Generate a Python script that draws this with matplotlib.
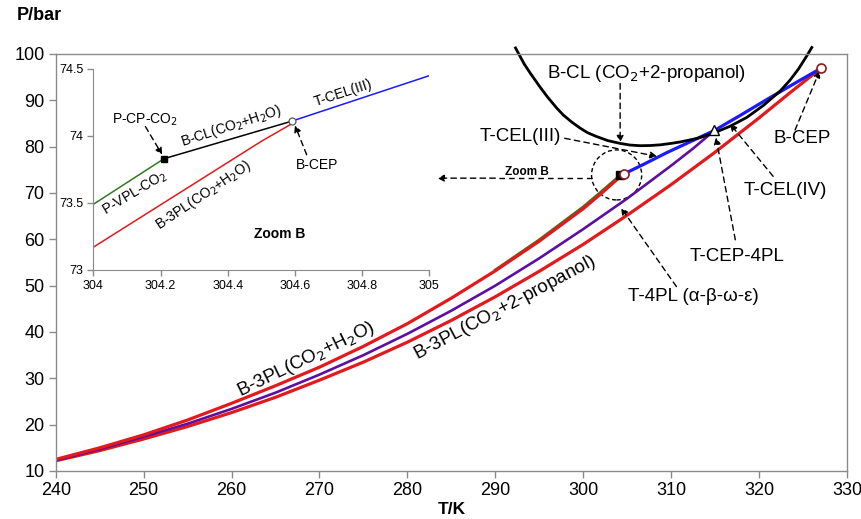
import matplotlib
matplotlib.use("Agg")
import matplotlib.pyplot as plt
from matplotlib.patches import Ellipse
from matplotlib.ticker import FormatStrFormatter

plt.rcParams["font.family"] = ["Liberation Sans", "DejaVu Sans"]

# three-phase line CO2 + H2O
b3pl_h2o_t = [240, 245, 250, 255, 260, 265, 270, 275, 280, 285, 290, 295,
              300, 302, 304.0, 304.5, 304.59]
b3pl_h2o_p = [12.5, 15.0, 17.8, 21.0, 24.6, 28.4, 32.4, 36.9, 41.8, 47.3, 53.2, 59.6,
              66.6, 69.8, 73.17, 73.96, 74.09]

# CO2 vapour pressure line near its critical point
vpl_co2_t = [290, 295, 300, 302, 304.0, 304.21]
vpl_co2_p = [53.4, 59.9, 67.0, 70.2, 73.49, 73.83]

# critical line CO2 + H2O
bcl_h2o_t = [304.21, 304.59]
bcl_h2o_p = [73.83, 74.11]

# four-phase line
t4pl_t = [240, 245, 250, 255, 260, 265, 270, 275, 280, 285, 290, 295,
          300, 305, 310, 312.5, 314.93]
t4pl_p = [12.3, 14.7, 17.4, 20.2, 23.4, 26.9, 30.8, 35.0, 39.6, 44.6, 50.0, 55.9,
          62.2, 68.8, 75.9, 79.6, 83.5]

# three-phase line CO2 + 2-propanol
b3pl_prop_t = [240, 245, 250, 255, 260, 265, 270, 275, 280, 285, 290, 295,
               300, 305, 310, 315, 320, 323.5, 327.03]
b3pl_prop_p = [12.2, 14.4, 16.9, 19.6, 22.6, 25.9, 29.6, 33.5, 37.8, 42.5, 47.6, 53.1,
               58.9, 65.2, 71.8, 78.8, 86.2, 91.6, 96.9]

# ternary critical endpoint line
tcel_t = [304.59, 305.0, 307.0, 309.5, 312.0, 314.93, 318.0, 321.0, 324.0, 327.03]
tcel_p = [74.11, 74.45, 76.3, 78.7, 80.9, 83.5, 86.9, 90.3, 93.6, 96.9]

# critical line CO2 + 2-propanol
bcl_prop_t = [292.3, 293.3, 294.0, 295.0, 295.9, 297.0, 297.75, 298.7, 299.65,
              300.5, 301.5, 302.8, 304.2, 305.3, 306.5, 307.7, 308.8, 310.0,
              311.0, 313.0, 314.8, 316.7, 318.6, 320.5, 322.4, 323.5, 324.5,
              325.5, 326.0]
bcl_prop_p = [101.3, 97.8, 95.8, 93.1, 90.8, 88.3, 86.8, 85.3, 84.0,
              83.0, 82.2, 81.3, 80.7, 80.35, 80.2, 80.25, 80.4, 80.7,
              81.0, 81.8, 82.9, 84.4, 86.3, 88.9, 92.0, 94.3, 96.8,
              99.8, 101.4]

# special points
cp_co2 = (304.21, 73.83)
cep_h2o = (304.59, 74.11)
tcep_4pl = (314.93, 83.5)
cep_prop = (327.03, 96.9)

RED = "#e3191c"
PURPLE = "#5c0fa0"
BLUE = "#1a1aff"
GREEN = "#2f7a1f"
GRAY = "#8a8a8a"

fig = plt.figure(figsize=(8.61, 5.19), dpi=100)
ax = fig.add_axes([0.0647, 0.0925, 0.9190, 0.8035])

ax.plot(vpl_co2_t, vpl_co2_p, color=GREEN, lw=2.0)
ax.plot(b3pl_prop_t, b3pl_prop_p, color=RED, lw=2.3)
ax.plot(t4pl_t, t4pl_p, color=PURPLE, lw=1.9)
ax.plot(b3pl_h2o_t, b3pl_h2o_p, color=RED, lw=2.3)
ax.plot(bcl_h2o_t, bcl_h2o_p, color="black", lw=1.5)
ax.plot(tcel_t, tcel_p, color=BLUE, lw=2.3)
ax.plot(bcl_prop_t, bcl_prop_p, color="black", lw=2.0, clip_on=False)

ax.plot(*cp_co2, marker="s", ms=6, color="black", zorder=5)
ax.plot(*cep_h2o, marker="o", ms=6.5, mfc="white", mec="#8b1a1a", mew=1.2, zorder=5)
ax.plot(*tcep_4pl, marker="^", ms=7, mfc="white", mec="black", mew=1.0, zorder=5)
ax.plot(*cep_prop, marker="o", ms=6.5, mfc="white", mec="#8b1a1a", mew=1.2, zorder=5)

ax.set_xlim(240, 330)
ax.set_ylim(10, 100)
ax.set_xticks(range(240, 331, 10))
ax.set_yticks(range(10, 101, 10))
ax.tick_params(direction="out", length=5, width=1, color=GRAY, labelsize=13, pad=3)
for s in ax.spines.values():
    s.set_color(GRAY)
    s.set_linewidth(1.0)
ax.set_xlabel("T/K", fontsize=12.5, fontweight="bold", labelpad=2)
fig.text(0.046, 0.971, "P/bar", fontsize=13, fontweight="bold", ha="center", va="center")

dash = dict(arrowstyle="-|>", linestyle=(0, (4, 3)), color="black", lw=1.0,
            mutation_scale=10, shrinkA=0, shrinkB=0)
lab = dict(fontsize=13.5, ha="center", va="center")

ax.text(307.2, 95.8, "B-CL (CO$_2$+2-propanol)", **lab)
ax.annotate("", xy=(304.2, 80.9), xytext=(304.2, 93.6), arrowprops=dash)

ax.text(292.8, 82.2, "T-CEL(III)", **lab)
ax.annotate("", xy=(308.4, 77.9), xytext=(297.9, 81.8), arrowprops=dash)

ax.text(323.0, 70.6, "T-CEL(IV)", **lab)
ax.annotate("", xy=(316.7, 84.9), xytext=(321.6, 73.6), arrowprops=dash)

ax.text(317.5, 56.2, "T-CEP-4PL", **lab)
ax.annotate("", xy=(315.1, 82.0), xytext=(317.3, 59.9), arrowprops=dash)

ax.text(312.5, 47.6, "T-4PL (α-β-ω-ε)", **lab)
ax.annotate("", xy=(304.3, 66.8), xytext=(310.6, 49.8), arrowprops=dash)

ax.text(324.9, 81.8, "B-CEP", **lab)
ax.annotate("", xy=(326.9, 96.4), xytext=(324.1, 83.6), arrowprops=dash)

ax.text(268.5, 34.0, "B-3PL(CO$_2$+H$_2$O)", rotation=26, **lab)
ax.text(291.1, 45.2, "B-3PL(CO$_2$+2-propanol)", rotation=28, **lab)

# zoom marker
ax.add_patch(Ellipse((303.8, 73.9), 5.7, 10.8, fill=False, ls=(0, (3, 2)),
                     lw=1.0, ec="black"))
ax.plot([301.0, 290.0], [73.2, 73.2], color="black", lw=1.0, ls=(0, (4, 3)))
ax.annotate("", xy=(283.4, 73.2), xytext=(290.0, 73.2), arrowprops=dash)
ax.text(293.6, 74.6, "Zoom B", fontsize=8.5, fontweight="bold", ha="center", va="center")

# inset
ins = fig.add_axes([0.1084, 0.4798, 0.3902, 0.3873])
ins.plot(vpl_co2_t, vpl_co2_p, color=GREEN, lw=1.1)
ins.plot(b3pl_h2o_t, b3pl_h2o_p, color=RED, lw=1.1)
ins.plot(bcl_h2o_t, bcl_h2o_p, color="black", lw=1.1)
ins.plot(tcel_t, tcel_p, color=BLUE, lw=1.1)
ins.plot(*cp_co2, marker="s", ms=5, color="black", zorder=5)
ins.plot(*cep_h2o, marker="o", ms=5, mfc="white", mec="#555555", mew=0.9, zorder=5)
ins.set_xlim(304, 305)
ins.set_ylim(73, 74.5)
ins.set_xticks([304, 304.2, 304.4, 304.6, 304.8, 305])
ins.set_yticks([73, 73.5, 74, 74.5])
ins.xaxis.set_major_formatter(FormatStrFormatter("%g"))
ins.yaxis.set_major_formatter(FormatStrFormatter("%g"))
ins.tick_params(direction="out", length=4, width=1, color=GRAY, labelsize=9, pad=3)
ins.spines["top"].set_visible(False)
ins.spines["right"].set_visible(False)
ins.spines["left"].set_color(GRAY)
ins.spines["bottom"].set_color(GRAY)

small = dict(fontsize=10, ha="center", va="center")
ins.text(304.155, 74.12, "P-CP-CO$_2$", **small)
ins.annotate("", xy=(304.205, 73.86), xytext=(304.155, 74.07), arrowprops=dash)
ins.text(304.41, 74.07, "B-CL(CO$_2$+H$_2$O)", rotation=18, **small)
ins.text(304.745, 74.32, "T-CEL(III)", rotation=18, **small)
ins.text(304.665, 73.78, "B-CEP", **small)
ins.annotate("", xy=(304.6, 74.08), xytext=(304.635, 73.86), arrowprops=dash)
ins.text(304.124, 73.57, "P-VPL-CO$_2$", rotation=31, **small)
ins.text(304.327, 73.56, "B-3PL(CO$_2$+H$_2$O)", rotation=34, **small)
ins.text(304.556, 73.27, "Zoom B", fontsize=10, fontweight="bold", ha="center", va="center")

fig.savefig("out.png", dpi=100)
